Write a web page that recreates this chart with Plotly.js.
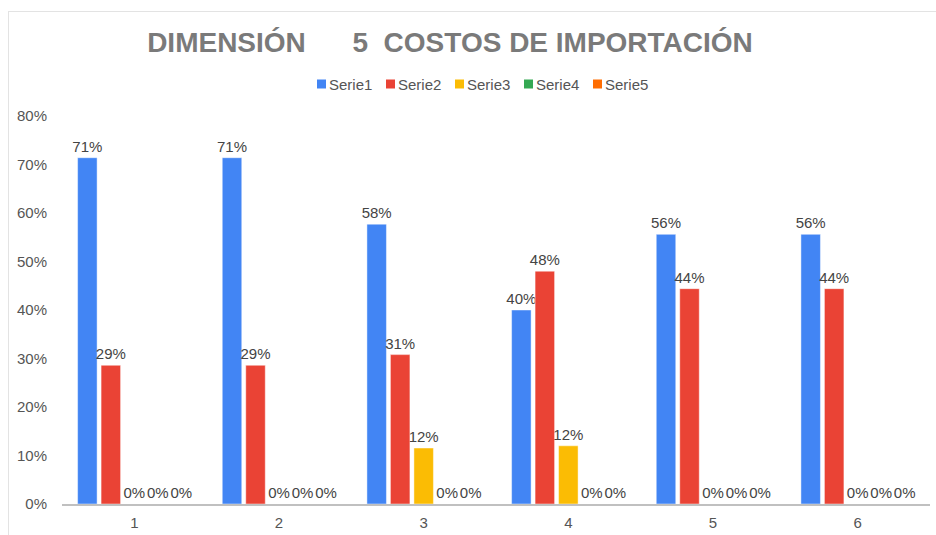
<!DOCTYPE html>
<html>
<head>
<meta charset="utf-8">
<script src="https://cdn.plot.ly/plotly-3.0.1.min.js"></script>
<style>
  body { margin: 0; background: #fff; }
  #wrap { position: relative; width: 936px; height: 535px; }
  #chart { width: 936px; height: 535px; }
  #frame { position: absolute; left: 8px; top: 11px; width: 960px; height: 560px;
           border: 1px solid #e3e3e3; pointer-events: none; }
</style>
</head>
<body>
<div id="wrap">
  <div id="chart"></div>
  <div id="frame"></div>
</div>
<script>
// Data
var categories = ['1', '2', '3', '4', '5', '6'];
var serie1 = [0.714, 0.714, 0.577, 0.40, 0.556, 0.556];
var serie2 = [0.286, 0.286, 0.308, 0.48, 0.444, 0.444];
var serie3 = [0, 0, 0.1154, 0.12, 0, 0];
var serie4 = [0, 0, 0, 0, 0, 0];
var serie5 = [0, 0, 0, 0, 0, 0];

var seriesNames = ['Serie1', 'Serie2', 'Serie3', 'Serie4', 'Serie5'];
var seriesValues = [serie1, serie2, serie3, serie4, serie5];
var seriesColors = ['#4285f4', '#ea4335', '#fbbc04', '#34a853', '#ff6d01'];

var font = 'Liberation Sans, Arial, sans-serif';

// plot area in pixels (used to place the hand-made legend)
var W = 936, H = 535;
var mL = 62, mR = 6, mT = 116, mB = 31;
var plotW = W - mL - mR, plotH = H - mT - mB;
function px2x(px) { return (px - mL) / plotW; }
function py2y(py) { return (H - mB - py) / plotH; }

// Creating one bar trace per series
var data = seriesNames.map(function (name, i) {
  return {
    type: 'bar',
    name: name,
    x: categories,
    y: seriesValues[i],
    marker: {
      color: seriesColors[i],
      line: { color: 'rgba(255,255,255,0.45)', width: 1 }
    },
    texttemplate: '%{y:.0%}',
    textposition: 'outside',
    constraintext: 'none',
    cliponaxis: false,
    textfont: { family: font, size: 15, color: '#444444' },
    hoverinfo: 'x+y+name'
  };
});

// Legend: small square right before each label, like the spreadsheet legend
var legendShapes = [];
var legendNotes = [];
var legendStart = 317, legendStep = 69, legendY = 84;
seriesNames.forEach(function (name, i) {
  var x0 = legendStart + i * legendStep;
  legendShapes.push({
    type: 'rect', xref: 'paper', yref: 'paper',
    x0: px2x(x0), x1: px2x(x0 + 9),
    y0: py2y(legendY + 4.5), y1: py2y(legendY - 4.5),
    fillcolor: seriesColors[i], line: { width: 0 }
  });
  legendNotes.push({
    xref: 'paper', yref: 'paper',
    x: px2x(x0 + 10), y: py2y(legendY),
    xanchor: 'left', yanchor: 'middle',
    text: name, showarrow: false,
    font: { family: font, size: 15, color: '#555555' }
  });
});

var sp = '\u00A0';
var layout = {
  width: W,
  height: H,
  margin: { l: mL, r: mR, t: mT, b: mB },
  paper_bgcolor: '#ffffff',
  plot_bgcolor: '#ffffff',
  barmode: 'group',
  bargap: 0.188,
  bargroupgap: 0.17,
  showlegend: false,
  title: {
    text: '<b>DIMENSIÓN' + sp.repeat(6) + '5' + sp + sp + 'COSTOS DE IMPORTACIÓN</b>',
    font: { family: font, size: 28, color: '#7a7a7a' },
    xref: 'container', x: 450 / W, xanchor: 'center',
    yref: 'container', y: 1 - 42 / H, yanchor: 'middle'
  },
  shapes: legendShapes,
  annotations: legendNotes,
  xaxis: {
    type: 'category',
    showgrid: false,
    showline: true,
    linecolor: '#c0c0c0',
    linewidth: 2,
    ticks: '',
    ticklabelstandoff: 4,
    tickfont: { family: font, size: 15, color: '#555555' }
  },
  yaxis: {
    range: [0, 0.8],
    dtick: 0.1,
    tickformat: '.0%',
    showgrid: false,
    zeroline: false,
    showline: false,
    ticks: '',
    ticklabelstandoff: 14,
    tickfont: { family: font, size: 15, color: '#555555' }
  }
};

Plotly.newPlot('chart', data, layout, { displayModeBar: false, staticPlot: true });
</script>
</body>
</html>
